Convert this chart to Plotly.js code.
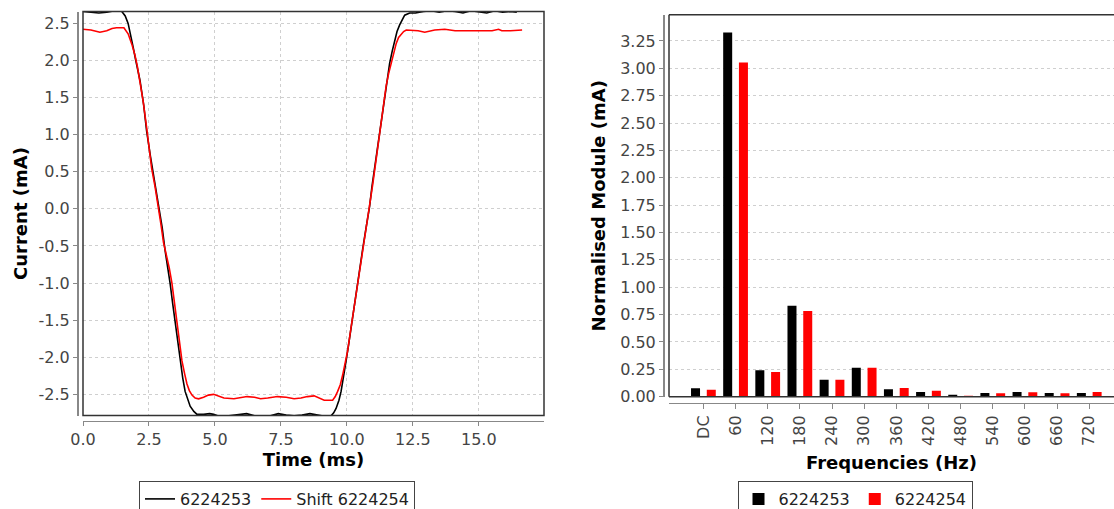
<!DOCTYPE html>
<html>
<head>
<meta charset="utf-8">
<script src="https://cdn.plot.ly/plotly-3.0.1.min.js"></script>
<style>
  html, body { margin: 0; padding: 0; background: #ffffff; }
  #chart { width: 1114px; height: 509px; }
</style>
</head>
<body>
<div id="chart"></div>
<script>
// ---- Time-domain data (ms, mA) ----
const seriesTimeName1 = "6224253";
const seriesTimeName2 = "Shift 6224254";

const time1 = [0, 0.3, 0.6, 0.9, 1.2, 1.45, 1.6, 1.71, 1.8, 1.9, 2.0, 2.16, 2.3, 2.41, 2.55, 2.67, 2.8, 2.92, 3.0, 3.11,
  3.2, 3.3, 3.4, 3.49, 3.6, 3.68, 3.78, 3.87, 3.97, 4.06, 4.2, 4.32, 4.57, 4.8, 4.95, 5.1, 5.3, 5.6, 5.9, 6.2,
  6.5, 6.8, 7.1, 7.4, 7.7, 8.0, 8.3, 8.6, 8.9, 9.2, 9.4, 9.5, 9.59, 9.7, 9.78, 9.88, 9.97, 10.07, 10.16, 10.25,
  10.35, 10.47, 10.6, 10.73, 10.86, 10.95, 11.05, 11.15, 11.24, 11.33, 11.43, 11.52, 11.62, 11.72, 11.81, 11.9, 12.0, 12.1, 12.19, 12.38,
  12.6, 12.9, 13.2, 13.5, 13.8, 14.1, 14.4, 14.7, 15.0, 15.3, 15.6, 15.9, 16.2, 16.44];
const current1 = [2.66, 2.65, 2.64, 2.65, 2.67, 2.67, 2.6, 2.5, 2.36, 2.18, 2.0, 1.73, 1.4, 1.05, 0.72, 0.46, 0.2, -0.05, -0.25, -0.56,
  -0.75, -1.0, -1.28, -1.53, -1.8, -2.05, -2.28, -2.46, -2.58, -2.66, -2.73, -2.77, -2.77, -2.76, -2.77, -2.79, -2.8, -2.79, -2.78, -2.76,
  -2.79, -2.8, -2.79, -2.76, -2.78, -2.79, -2.78, -2.76, -2.78, -2.8, -2.79, -2.75, -2.69, -2.58, -2.46, -2.27, -2.05, -1.82, -1.6, -1.35,
  -1.1, -0.82, -0.54, -0.25, 0.03, 0.3, 0.55, 0.8, 1.05, 1.3, 1.55, 1.76, 1.96, 2.13, 2.27, 2.39, 2.48, 2.56, 2.61, 2.64,
  2.64, 2.66, 2.67, 2.65, 2.67, 2.66, 2.64, 2.67, 2.66, 2.64, 2.67, 2.65, 2.66, 2.65];

const time2 = [0, 0.3, 0.64, 0.9, 1.1, 1.27, 1.55, 1.71, 1.85, 1.97, 2.06, 2.16, 2.28, 2.41, 2.5, 2.6, 2.73, 2.86, 2.95, 3.05,
  3.17, 3.27, 3.37, 3.46, 3.56, 3.65, 3.75, 3.85, 3.94, 4.03, 4.13, 4.25, 4.38, 4.57, 4.75, 4.95, 5.15, 5.34, 5.72, 6.0,
  6.22, 6.5, 6.73, 7.0, 7.37, 7.7, 8.0, 8.26, 8.5, 8.76, 8.95, 9.14, 9.46, 9.56, 9.65, 9.75, 9.84, 9.93, 10.03, 10.12,
  10.22, 10.31, 10.41, 10.5, 10.6, 10.73, 10.86, 10.98, 11.11, 11.2, 11.3, 11.4, 11.49, 11.58, 11.68, 11.77, 11.87, 11.96, 12.06, 12.15,
  12.25, 12.45, 12.7, 12.95, 13.15, 13.33, 13.71, 14.1, 14.6, 15.11, 15.5, 15.75, 15.87, 16.2, 16.64];
const current2 = [2.42, 2.41, 2.38, 2.4, 2.43, 2.44, 2.44, 2.36, 2.22, 2.07, 1.92, 1.73, 1.45, 1.1, 0.85, 0.55, 0.3, 0.03, -0.2, -0.45,
  -0.62, -0.8, -1.0, -1.25, -1.53, -1.78, -2.05, -2.22, -2.36, -2.45, -2.51, -2.55, -2.56, -2.54, -2.51, -2.5, -2.53, -2.55, -2.56, -2.54,
  -2.53, -2.54, -2.56, -2.55, -2.53, -2.54, -2.56, -2.55, -2.53, -2.52, -2.55, -2.58, -2.58, -2.53, -2.46, -2.37, -2.24, -2.08, -1.91, -1.69,
  -1.46, -1.23, -1.0, -0.78, -0.56, -0.28, -0.01, 0.33, 0.67, 0.92, 1.17, 1.42, 1.66, 1.82, 1.96, 2.1, 2.23, 2.31, 2.36, 2.39,
  2.41, 2.41, 2.40, 2.38, 2.40, 2.41, 2.42, 2.40, 2.40, 2.40, 2.40, 2.42, 2.40, 2.40, 2.41];

// Tick labels of the current axis (plain hyphen minus, as in the original)
const currentTickVals = [-2.5, -2.0, -1.5, -1.0, -0.5, 0.0, 0.5, 1.0, 1.5, 2.0, 2.5];
const currentTickText = ["-2.5", "-2.0", "-1.5", "-1.0", "-0.5", "0.0", "0.5", "1.0", "1.5", "2.0", "2.5"];

// ---- Spectrum data (Hz categories, mA) ----
const freqCategories = ["DC", "60", "120", "180", "240", "300", "360", "420", "480", "540", "600", "660", "720"];
const spectrumName1 = "6224253";
const spectrumName2 = "6224254";
const module1 = [0.077, 3.328, 0.241, 0.831, 0.155, 0.265, 0.067, 0.043, 0.018, 0.034, 0.043, 0.034, 0.034];
const module2 = [0.064, 3.054, 0.226, 0.783, 0.155, 0.265, 0.079, 0.055, 0.009, 0.031, 0.040, 0.031, 0.043];

// ---- Layout helpers (pixel -> paper) ----
const W = 1114, H = 509;
const px = v => v / W;
const py = v => 1 - v / H;

const FONT = "DejaVu Sans, Verdana, sans-serif";
const tickFont = { family: FONT, size: 16, color: "#444444" };
const titleFont = { family: FONT, size: 18, color: "#000000" };
const gridStyle = { showgrid: true, gridcolor: "#cfcfcf", griddash: "dot", gridwidth: 1 };

const traces = [
  { type: "scatter", mode: "lines", x: time1, y: current1, name: seriesTimeName1,
    line: { color: "#000000", width: 1.6 }, xaxis: "x", yaxis: "y", legend: "legend" },
  { type: "scatter", mode: "lines", x: time2, y: current2, name: seriesTimeName2,
    line: { color: "#ff0000", width: 1.6 }, xaxis: "x", yaxis: "y", legend: "legend" },
  { type: "bar", x: freqCategories, y: module1, name: spectrumName1,
    marker: { color: "#000000", line: { width: 0 } }, width: 0.28, offset: -0.385,
    xaxis: "x2", yaxis: "y2", legend: "legend2" },
  { type: "bar", x: freqCategories, y: module2, name: spectrumName2,
    marker: { color: "#ff0000", line: { width: 0 } }, width: 0.28, offset: 0.105,
    xaxis: "x2", yaxis: "y2", legend: "legend2" }
];

const layout = {
  width: W, height: H,
  margin: { l: 0, r: 0, t: 0, b: 0, pad: 0, autoexpand: false },
  paper_bgcolor: "#ffffff",
  plot_bgcolor: "#ffffff",
  barmode: "overlay",
  font: { family: FONT, size: 16, color: "#444444" },
  xaxis: Object.assign({
    domain: [px(83), px(544)],
    anchor: "free", position: py(420.5),
    range: [0, 17.47], dtick: 2.5, tick0: 0, tickformat: ".1f",
    ticks: "outside", ticklen: 4, tickcolor: "#888888",
    showline: true, linecolor: "#888888", linewidth: 1.5,
    zeroline: false, tickfont: tickFont, automargin: false,
    title: { text: "<b>Time (ms)</b>", font: titleFont, standoff: 5 }
  }, gridStyle),
  yaxis: Object.assign({
    domain: [py(415.5), py(11.5)],
    anchor: "free", position: px(77),
    range: [-2.785, 2.66],
    tickmode: "array", tickvals: currentTickVals, ticktext: currentTickText,
    ticks: "outside", ticklen: 4, tickcolor: "#888888",
    showline: true, linecolor: "#888888", linewidth: 1.5,
    zeroline: false, tickfont: tickFont, automargin: false,
    title: { text: "<b>Current (mA)</b>", font: titleFont, standoff: 5 }
  }, gridStyle),
  xaxis2: {
    domain: [px(669), 1],
    anchor: "free", position: py(402.5),
    type: "category", categoryorder: "array", categoryarray: freqCategories,
    range: [-1.07, 12.77],
    tickangle: -90,
    ticks: "outside", ticklen: 5, tickcolor: "#888888",
    showline: true, linecolor: "#888888", linewidth: 1.5,
    showgrid: false, zeroline: false, tickfont: tickFont, automargin: false,
    title: { text: "<b>Frequencies (Hz)</b>", font: titleFont, standoff: 11 }
  },
  yaxis2: Object.assign({
    domain: [py(396.7), py(14.7)],
    anchor: "free", position: px(663),
    range: [0, 3.49], dtick: 0.25, tick0: 0, tickformat: ".2f",
    ticks: "outside", ticklen: 4, tickcolor: "#888888",
    showline: true, linecolor: "#888888", linewidth: 1.5,
    zeroline: false, tickfont: tickFont, automargin: false,
    title: { text: "<b>Normalised Module (mA)</b>", font: titleFont, standoff: 8 }
  }, gridStyle),
  shapes: [
    { type: "rect", xref: "x domain", yref: "y domain", x0: 0, x1: 1, y0: 0, y1: 1,
      line: { color: "#333333", width: 1.5 }, fillcolor: "rgba(0,0,0,0)", layer: "above" },
    { type: "line", xref: "x2 domain", yref: "y2 domain", x0: 0, x1: 0, y0: 0, y1: 1,
      line: { color: "#333333", width: 1.5 }, layer: "above" },
    { type: "line", xref: "x2 domain", yref: "y2 domain", x0: 0, x1: 1.01, y0: 1, y1: 1,
      line: { color: "#333333", width: 1.5 }, layer: "above" },
    { type: "line", xref: "x2 domain", yref: "y2 domain", x0: 0, x1: 1.01, y0: 0, y1: 0,
      line: { color: "#333333", width: 1.5 }, layer: "above" }
  ],
  legend: {
    orientation: "h", x: px(277), xanchor: "center", y: py(481), yanchor: "top",
    bgcolor: "#ffffff", bordercolor: "#444444", borderwidth: 1,
    font: { family: FONT, size: 16, color: "#222222" }, itemwidth: 30, tracegroupgap: 0
  },
  legend2: {
    orientation: "h", x: px(855), xanchor: "center", y: py(481), yanchor: "top",
    bgcolor: "#ffffff", bordercolor: "#444444", borderwidth: 1,
    font: { family: FONT, size: 16, color: "#222222" }, itemwidth: 30, tracegroupgap: 0
  },
  showlegend: true
};

Plotly.newPlot("chart", traces, layout, { displayModeBar: false, staticPlot: true });
</script>
</body>
</html>
